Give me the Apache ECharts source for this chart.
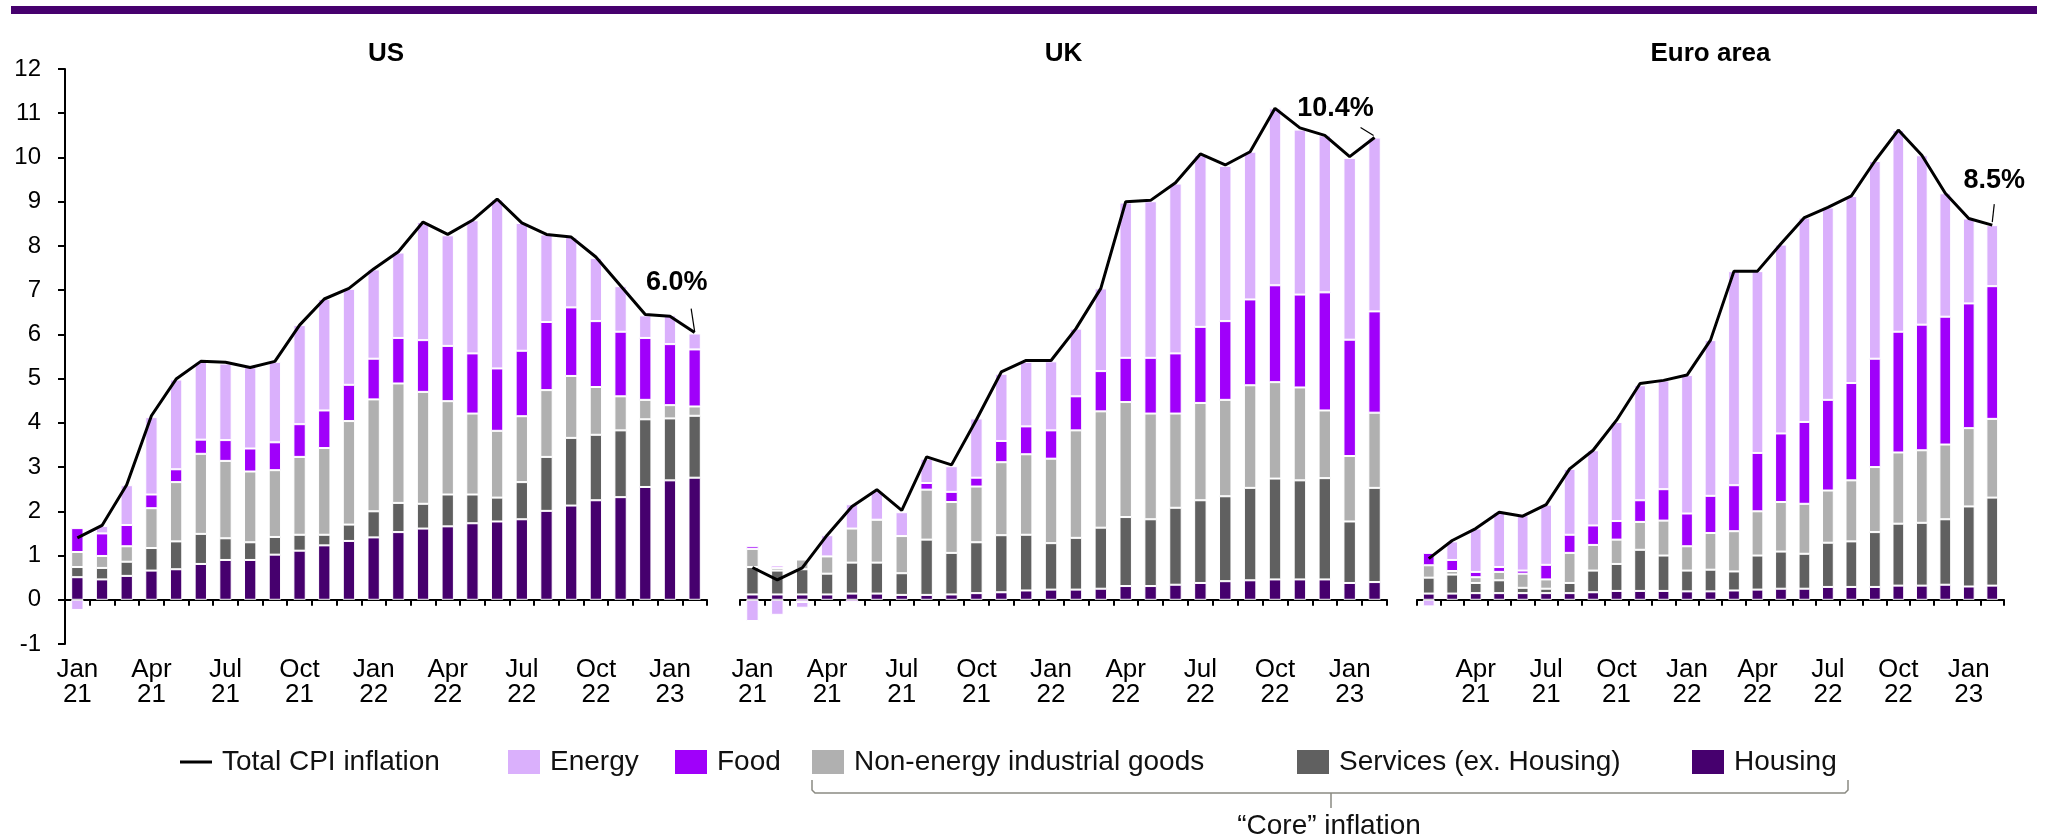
<!DOCTYPE html>
<html>
<head>
<meta charset="utf-8">
<script src="https://cdn.jsdelivr.net/npm/echarts/dist/echarts.min.js"></script>
<style>
  html, body { margin: 0; padding: 0; background: #fff; }
  #chart { width: 2046px; height: 838px; }
</style>
</head>
<body>
<div id="chart"></div>
<script>
(function() {
  var font = "'Liberation Sans', Arial, sans-serif";

  // --- months ---
  var monthsUS = ['Jan 21', 'Feb 21', 'Mar 21', 'Apr 21', 'May 21', 'Jun 21', 'Jul 21', 'Aug 21', 'Sep 21', 'Oct 21', 'Nov 21', 'Dec 21',
                  'Jan 22', 'Feb 22', 'Mar 22', 'Apr 22', 'May 22', 'Jun 22', 'Jul 22', 'Aug 22', 'Sep 22', 'Oct 22', 'Nov 22', 'Dec 22',
                  'Jan 23', 'Feb 23'];
  var monthsUK = monthsUS;
  var monthsEA = ['Feb 21', 'Mar 21', 'Apr 21', 'May 21', 'Jun 21', 'Jul 21', 'Aug 21', 'Sep 21', 'Oct 21', 'Nov 21', 'Dec 21',
                  'Jan 22', 'Feb 22', 'Mar 22', 'Apr 22', 'May 22', 'Jun 22', 'Jul 22', 'Aug 22', 'Sep 22', 'Oct 22', 'Nov 22', 'Dec 22',
                  'Jan 23', 'Feb 23'];

  // --- US contributions (pp) ---
  var usHousing  = [0.51, 0.46, 0.54, 0.66, 0.69, 0.81, 0.90, 0.90, 1.02, 1.11, 1.23, 1.33, 1.41, 1.53, 1.61, 1.66, 1.73, 1.77, 1.82, 2.01, 2.13, 2.25, 2.32, 2.55, 2.70, 2.76];
  var usServices = [0.23, 0.26, 0.32, 0.51, 0.63, 0.68, 0.49, 0.40, 0.40, 0.36, 0.24, 0.37, 0.59, 0.66, 0.56, 0.72, 0.65, 0.54, 0.84, 1.22, 1.53, 1.48, 1.51, 1.53, 1.40, 1.40];
  var usGoods    = [0.34, 0.27, 0.35, 0.90, 1.34, 1.81, 1.75, 1.60, 1.51, 1.76, 1.96, 2.34, 2.53, 2.70, 2.53, 2.11, 1.83, 1.51, 1.49, 1.51, 1.40, 1.08, 0.77, 0.44, 0.30, 0.21];
  var usFood     = [0.54, 0.51, 0.48, 0.31, 0.29, 0.32, 0.47, 0.52, 0.63, 0.74, 0.85, 0.82, 0.92, 1.03, 1.17, 1.25, 1.36, 1.41, 1.48, 1.54, 1.55, 1.49, 1.46, 1.40, 1.38, 1.29];
  var usEnergy   = [-0.23, 0.17, 0.90, 1.75, 2.03, 1.76, 1.73, 1.84, 1.82, 2.24, 2.52, 2.17, 2.02, 1.93, 2.67, 2.50, 3.01, 3.82, 2.89, 1.98, 1.59, 1.43, 1.03, 0.51, 0.65, 0.36];
  var usTotal    = [1.40, 1.68, 2.60, 4.16, 4.99, 5.39, 5.37, 5.25, 5.39, 6.21, 6.80, 7.04, 7.48, 7.87, 8.54, 8.26, 8.58, 9.06, 8.52, 8.26, 8.20, 7.75, 7.10, 6.45, 6.41, 6.04];

  // --- UK contributions (pp) ---
  var ukHousing  = [0.12, 0.12, 0.12, 0.12, 0.14, 0.14, 0.11, 0.11, 0.12, 0.15, 0.17, 0.21, 0.23, 0.23, 0.25, 0.31, 0.31, 0.34, 0.38, 0.42, 0.44, 0.46, 0.46, 0.46, 0.38, 0.40];
  var ukServices = [0.62, 0.54, 0.57, 0.47, 0.70, 0.70, 0.49, 1.25, 0.94, 1.15, 1.29, 1.26, 1.05, 1.17, 1.38, 1.56, 1.51, 1.74, 1.87, 1.92, 2.09, 2.28, 2.24, 2.29, 1.39, 2.13];
  var ukGoods    = [0.41, 0.06, 0.22, 0.39, 0.77, 0.97, 0.84, 1.13, 1.15, 1.26, 1.65, 1.82, 1.91, 2.43, 2.63, 2.60, 2.39, 2.13, 2.20, 2.18, 2.32, 2.18, 2.10, 1.53, 1.48, 1.70];
  var ukFood     = [0.06, 0.05, -0.05, 0.00, -0.05, 0.00, 0.00, 0.15, 0.23, 0.20, 0.48, 0.63, 0.64, 0.77, 0.91, 1.00, 1.26, 1.36, 1.72, 1.78, 1.94, 2.19, 2.10, 2.67, 2.63, 2.29];
  var ukEnergy   = [-0.48, -0.34, -0.13, 0.48, 0.55, 0.65, 0.54, 0.55, 0.58, 1.34, 1.52, 1.46, 1.56, 1.53, 1.87, 3.51, 3.54, 3.84, 3.88, 3.51, 3.34, 4.00, 3.73, 3.55, 4.11, 3.93];
  var ukTotal    = [0.73, 0.45, 0.72, 1.46, 2.11, 2.49, 2.02, 3.23, 3.05, 4.07, 5.15, 5.41, 5.41, 6.13, 7.04, 9.00, 9.03, 9.43, 10.08, 9.83, 10.13, 11.11, 10.67, 10.50, 10.02, 10.45];

  // --- Euro area contributions (pp) ---
  var eaHousing  = [0.14, 0.14, 0.15, 0.15, 0.15, 0.15, 0.15, 0.17, 0.20, 0.20, 0.20, 0.19, 0.19, 0.21, 0.23, 0.25, 0.25, 0.29, 0.29, 0.29, 0.32, 0.32, 0.34, 0.30, 0.32];
  var eaServices = [0.36, 0.43, 0.23, 0.29, 0.12, 0.10, 0.23, 0.49, 0.61, 0.93, 0.80, 0.47, 0.49, 0.43, 0.77, 0.84, 0.79, 1.00, 1.03, 1.24, 1.40, 1.42, 1.48, 1.81, 1.99];
  var eaGoods    = [0.28, 0.08, 0.13, 0.19, 0.32, 0.21, 0.68, 0.58, 0.55, 0.63, 0.79, 0.55, 0.83, 0.91, 1.00, 1.12, 1.13, 1.18, 1.38, 1.47, 1.61, 1.64, 1.69, 1.77, 1.78];
  var eaFood     = [0.28, 0.25, 0.12, 0.11, 0.07, 0.33, 0.41, 0.44, 0.42, 0.49, 0.71, 0.74, 0.84, 1.04, 1.32, 1.55, 1.85, 2.05, 2.20, 2.45, 2.73, 2.84, 2.89, 2.82, 3.00];
  var eaEnergy   = [-0.15, 0.42, 0.98, 1.24, 1.25, 1.36, 1.49, 1.70, 2.24, 2.60, 2.46, 3.13, 3.52, 4.84, 4.11, 4.27, 4.62, 4.35, 4.23, 4.47, 4.56, 3.83, 2.79, 1.92, 1.38];
  var eaTotal    = [0.93, 1.34, 1.61, 1.98, 1.89, 2.15, 2.96, 3.38, 4.06, 4.89, 4.96, 5.08, 5.87, 7.43, 7.43, 8.05, 8.64, 8.87, 9.13, 9.92, 10.62, 10.05, 9.19, 8.62, 8.47];

  var panelTitles = ['US', 'UK', 'Euro area'];
  var lastLabels = ['6.0%', '10.4%', '8.5%'];
  var yTicks = [-1, 12, 1]; // min, max, step

  var cHousing = '#46006E', cServices = '#606060', cGoods = '#B0B0B0', cFood = '#A000FA', cEnergy = '#DAB0FC';

  var panels = [
    { cats: monthsUS, parts: [usHousing, usServices, usGoods, usFood, usEnergy], total: usTotal, first: 0 },
    { cats: monthsUK, parts: [ukHousing, ukServices, ukGoods, ukFood, ukEnergy], total: ukTotal, first: 0 },
    { cats: monthsEA, parts: [eaHousing, eaServices, eaGoods, eaFood, eaEnergy], total: eaTotal, first: 2 }
  ];
  var partNames = ['Housing', 'Services (ex. Housing)', 'Non-energy industrial goods', 'Food', 'Energy'];
  var partColors = [cHousing, cServices, cGoods, cFood, cEnergy];

  var grids = [
    { left: 65, top: 69, width: 642, height: 575 },
    { left: 740, top: 69, width: 647, height: 575 },
    { left: 1417, top: 69, width: 587, height: 575 }
  ];

  var xAxes = [], yAxes = [], series = [];
  panels.forEach(function(p, g) {
    xAxes.push({
      type: 'category', gridIndex: g, data: p.cats,
      axisLine: { onZero: true, lineStyle: { color: '#000', width: 2 } },
      axisTick: { show: true, interval: 0, length: 6, lineStyle: { color: '#000', width: 2 } },
      axisLabel: {
        interval: function(idx) { return (idx - p.first) % 3 === 0; },
        margin: 13, fontSize: 26, lineHeight: 25, color: '#000', fontFamily: font,
        formatter: function(v) { return v.replace(' ', '\n'); }
      },
      splitLine: { show: false }
    });
    yAxes.push({
      type: 'value', gridIndex: g, min: yTicks[0], max: yTicks[1], interval: yTicks[2],
      show: g === 0,
      axisLine: { show: true, lineStyle: { color: '#000', width: 2 } },
      axisTick: { show: true, length: 7, lineStyle: { color: '#000', width: 2 } },
      axisLabel: { fontSize: 24, color: '#000', margin: 24, fontFamily: font },
      splitLine: { show: false }
    });
    p.parts.forEach(function(arr, k) {
      series.push({
        name: partNames[k], type: 'bar', stack: 'p' + g,
        xAxisIndex: g, yAxisIndex: g, data: arr, barWidth: '50%',
        itemStyle: { color: partColors[k], borderColor: '#fff', borderWidth: 1 },
        emphasis: { disabled: true }
      });
    });
    series.push({
      name: 'Total CPI inflation', type: 'line', xAxisIndex: g, yAxisIndex: g,
      data: p.total, symbol: 'none', z: 5,
      lineStyle: { color: '#000', width: 3 }, itemStyle: { color: '#000' },
      emphasis: { disabled: true }
    });
  });

  // --- legends, one per item so each sits where it does in the original ---
  // the line icon: a 3px bar in the middle of a 32x24 box (the corner dots keep the box from stretching)
  var lineIcon = 'path://M0,0L0.01,0L0.01,0.01Z M0,10.5H32V13.5H0Z M31.99,23.99L32,24L31.99,24Z';
  var legendItems = [
    ['Total CPI inflation', 180, lineIcon], ['Energy', 508, 'rect'], ['Food', 675, 'rect'],
    ['Non-energy industrial goods', 812, 'rect'], ['Services (ex. Housing)', 1297, 'rect'], ['Housing', 1692, 'rect']
  ];
  var legends = legendItems.map(function(it) {
    return {
      data: [{ name: it[0], icon: it[2] }], left: it[1], top: 748, padding: 0,
      itemWidth: 32, itemHeight: 24, selectedMode: false,
      itemStyle: { borderWidth: 0 },
      textStyle: { fontSize: 28, color: '#111', fontFamily: font, padding: [0, 0, 0, 5] }
    };
  });

  var base = [
    { type: 'rect', shape: { x: 11, y: 6, width: 2026, height: 8 }, style: { fill: cHousing } },
    { type: 'polyline', shape: { points: [[812, 780], [812, 790], [815, 793], [1845, 793], [1848, 790], [1848, 780]] },
      style: { stroke: '#8a8a82', lineWidth: 1.5, fill: null } },
    { type: 'line', shape: { x1: 1331, y1: 793, x2: 1331, y2: 808 }, style: { stroke: '#8a8a82', lineWidth: 1.5 } },
    { type: 'text', x: 1329, y: 826, style: { text: '\u201cCore\u201d inflation', fontSize: 28, fontFamily: font, fill: '#111', align: 'center', verticalAlign: 'middle' } }
  ];
  grids.forEach(function(gr, g) {
    base.push({ type: 'text', x: gr.left + gr.width / 2, y: 54,
      style: { text: panelTitles[g], fontSize: 26, fontWeight: 'bold', fontFamily: font, fill: '#000', align: 'center', verticalAlign: 'middle' } });
  });

  var chart = echarts.init(document.getElementById('chart'), null, { renderer: 'canvas' });
  chart.setOption({
    animation: false,
    backgroundColor: '#fff',
    grid: grids,
    xAxis: xAxes,
    yAxis: yAxes,
    legend: legends,
    series: series,
    graphic: { elements: base }
  });

  // --- last-value annotations, anchored on the line end ---
  var annOffsets = [
    { t: [-18, -50], a: [-3.5, -24], b: [0, -1] },
    { t: [-39, -29], a: [-14, -10], b: [-1, -2] },
    { t: [2, -45], a: [2, -21], b: [0, -3] }
  ];
  var extra = [];
  panels.forEach(function(p, g) {
    var n = p.total.length - 1;
    var pt = chart.convertToPixel({ xAxisIndex: g, yAxisIndex: g }, [n, p.total[n]]);
    var o = annOffsets[g];
    extra.push({ type: 'text', x: pt[0] + o.t[0], y: pt[1] + o.t[1],
      style: { text: lastLabels[g], fontSize: 27, fontWeight: 'bold', fontFamily: font, fill: '#000', align: 'center', verticalAlign: 'middle' } });
    extra.push({ type: 'line', shape: { x1: pt[0] + o.a[0], y1: pt[1] + o.a[1], x2: pt[0] + o.b[0], y2: pt[1] + o.b[1] },
      style: { stroke: '#000', lineWidth: 1.2 } });
  });
  chart.setOption({ graphic: { elements: base.concat(extra) } });
})();
</script>
</body>
</html>
